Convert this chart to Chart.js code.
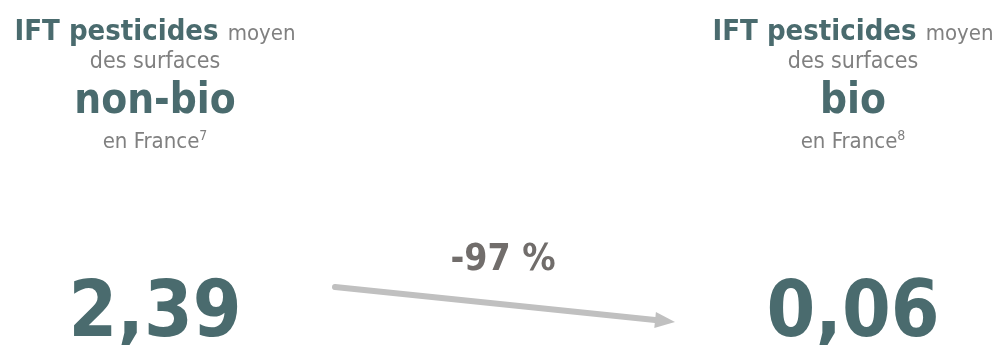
<!DOCTYPE html>
<html lang="fr">
<head>
<meta charset="utf-8">
<script src="https://cdn.jsdelivr.net/npm/chart.js@4"></script>
<style>
  html, body { margin: 0; padding: 0; background: #fff; }
  #wrap { width: 997px; height: 345px; }
</style>
</head>
<body>
<div id="wrap"><canvas id="iftChart" width="997" height="345"></canvas></div>
<script>
// data
const categories = ["non-bio", "bio"];
const iftValues = [2.39, 0.06];
const footnotes = ["7", "8"];
const changeLabel = "-97 %";

const TEAL = "#4a6b6e";
const GREY = "#808080";
const FONT = "'DejaVu Sans Condensed', 'DejaVu Sans', sans-serif";

function fmt(v) {
  return v.toFixed(2).replace(".", ",");
}

// draws a line made of [text, font, colour] parts, centred on x
function drawParts(ctx, parts, x, y) {
  let total = 0;
  const widths = parts.map(p => {
    ctx.font = p[1];
    const w = ctx.measureText(p[0]).width;
    total += w;
    return w;
  });
  let cx = x - total / 2;
  parts.forEach((p, i) => {
    ctx.font = p[1];
    ctx.fillStyle = p[2];
    ctx.fillText(p[0], cx, y + (p[3] || 0));
    cx += widths[i];
  });
}

const infoPlugin = {
  id: "infoPlugin",
  afterDraw(chart) {
    const ctx = chart.ctx;
    const xs = chart.scales.x;
    ctx.save();
    ctx.textBaseline = "alphabetic";
    ctx.textAlign = "left";

    categories.forEach((cat, i) => {
      const x = xs.getPixelForValue(i);
      drawParts(ctx, [
        ["IFT pesticides ", "bold 29px " + FONT, TEAL],
        ["moyen", "22px " + FONT, GREY]
      ], x, 40);
      drawParts(ctx, [["des surfaces", "23px " + FONT, GREY]], x, 68);
      drawParts(ctx, [[cat, "bold 42px " + FONT, TEAL]], x, 113);
      drawParts(ctx, [
        ["en France", "22px " + FONT, GREY],
        [footnotes[i], "14px " + FONT, GREY, -8]
      ], x, 148);
      drawParts(ctx, [[fmt(iftValues[i]), "bold 78px " + FONT, TEAL]], x, 336);
    });

    // arrow between the two values
    const x0 = xs.getPixelForValue(0) + 180;
    const x1 = xs.getPixelForValue(1) - 178;
    const y0 = 287, y1 = 322;
    const ang = Math.atan2(y1 - y0, x1 - x0);
    const head = 20;
    ctx.strokeStyle = "#c0c0c0";
    ctx.fillStyle = "#c0c0c0";
    ctx.lineWidth = 6;
    ctx.lineCap = "round";
    ctx.beginPath();
    ctx.moveTo(x0, y0);
    ctx.lineTo(x1 - head * Math.cos(ang), y1 - head * Math.sin(ang));
    ctx.stroke();
    ctx.beginPath();
    ctx.moveTo(x1, y1);
    ctx.lineTo(x1 - head * Math.cos(ang) + 8 * Math.sin(ang), y1 - head * Math.sin(ang) - 8 * Math.cos(ang));
    ctx.lineTo(x1 - head * Math.cos(ang) - 8 * Math.sin(ang), y1 - head * Math.sin(ang) + 8 * Math.cos(ang));
    ctx.closePath();
    ctx.fill();

    drawParts(ctx, [[changeLabel, "bold 37px " + FONT, "#716d6b"]], (x0 + x1) / 2 - 2, 270);
    ctx.restore();
  }
};

const ctx = document.getElementById("iftChart").getContext("2d");
new Chart(ctx, {
  type: "line",
  data: {
    labels: categories,
    datasets: [{
      label: "IFT pesticides",
      data: iftValues,
      showLine: false,
      pointRadius: 0
    }]
  },
  options: {
    responsive: false,
    animation: false,
    layout: { padding: { left: 155, right: 144, top: 0, bottom: 0 } },
    plugins: { legend: { display: false }, tooltip: { enabled: false } },
    scales: {
      x: { display: false, offset: false },
      y: { display: false }
    }
  },
  plugins: [infoPlugin]
});
</script>
</body>
</html>
